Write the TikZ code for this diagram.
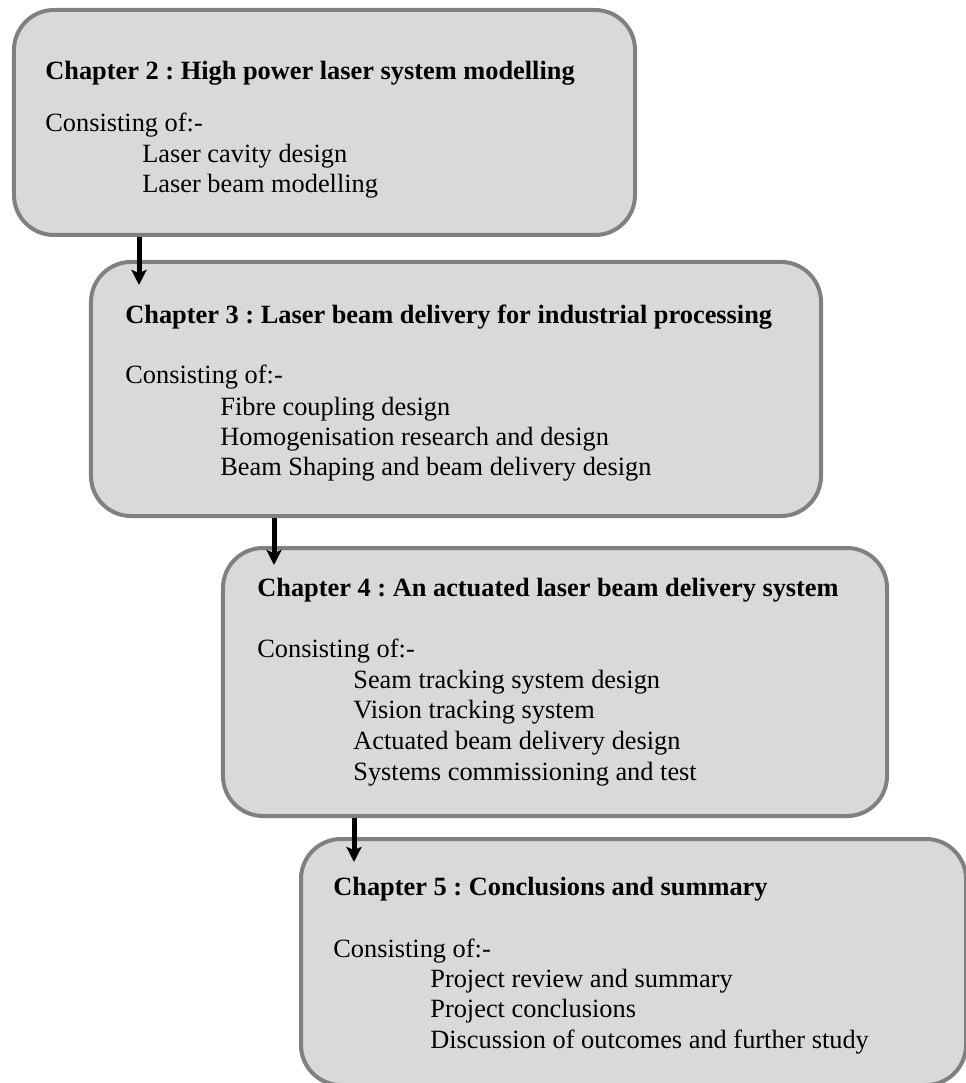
\documentclass[tikz,border=0pt]{standalone}
\usepackage{fontspec}
\setmainfont{Liberation Serif}
\usetikzlibrary{arrows.meta}

\definecolor{boxedge}{HTML}{808080}
\definecolor{boxfill}{HTML}{D9D9D9}

\tikzset{
  chapbox/.style={draw=boxedge, fill=boxfill, line width=0.8mm, rounded corners=8mm, inner sep=0pt},
  txt/.style={anchor=base west, inner sep=0pt, font=\fontsize{15pt}{18pt}\selectfont},
  head/.style={txt, font=\fontsize{15pt}{18pt}\selectfont\bfseries},
  flow/.style={line width=1mm, -{Stealth[length=3mm, width=3mm, inset=0.6mm]}}
}

\begin{document}
\frenchspacing
\begin{tikzpicture}[x=0.2mm, y=-0.2mm]
\useasboundingbox (0,0) rectangle (966,1083);
\clip (0,0) rectangle (966,1083);

\node[chapbox, minimum width=124.2mm, minimum height=45mm] (ch2) at (324.5,122.5) {};
\node[chapbox, minimum width=146mm, minimum height=50.8mm] (ch3) at (456,389) {};
\node[chapbox, minimum width=132.8mm, minimum height=53.6mm] (ch4) at (555,682) {};
\node[chapbox, minimum width=133mm, minimum height=49.2mm] (ch5) at (633.5,962) {};

\node[head] (t2) at (45,80) {Chapter 2 : High power laser system modelling};
\node[txt] (c2) at (45,132) {Consisting of:-};
\node[txt] (a2) at (142,163) {Laser cavity design};
\node[txt] (b2) at (142,193) {Laser beam modelling};

\node[head] (t3) at (125,323) {Chapter 3 : Laser beam delivery for industrial processing};
\node[txt] (c3) at (125,383) {Consisting of:-};
\node[txt] (a3) at (220,415) {Fibre coupling design};
\node[txt] (b3) at (220,445) {Homogenisation research and design};
\node[txt] (d3) at (220,475) {Beam Shaping and beam delivery design};

\node[head] (t4) at (257,596) {Chapter 4 : An actuated laser beam delivery system};
\node[txt] (c4) at (257,657) {Consisting of:-};
\node[txt] (a4) at (353,688) {Seam tracking system design};
\node[txt] (b4) at (353,718) {Vision tracking system};
\node[txt] (d4) at (353,749) {Actuated beam delivery design};
\node[txt] (e4) at (353,780) {Systems commissioning and test};

\node[head] (t5) at (333,895) {Chapter 5 : Conclusions and summary};
\node[txt] (c5) at (333,957) {Consisting of:-};
\node[txt] (a5) at (430,987) {Project review and summary};
\node[txt] (b5) at (430,1017) {Project conclusions};
\node[txt] (d5) at (430,1048) {Discussion of outcomes and further study};

\coordinate (tip3) at (139,285);
\coordinate (tip4) at (274,565);
\coordinate (tip5) at (354,862);
\draw[flow] (ch2.south -| tip3) -- (tip3);
\draw[flow] (ch3.south -| tip4) -- (tip4);
\draw[flow] (ch4.south -| tip5) -- (tip5);
\end{tikzpicture}
\end{document}
